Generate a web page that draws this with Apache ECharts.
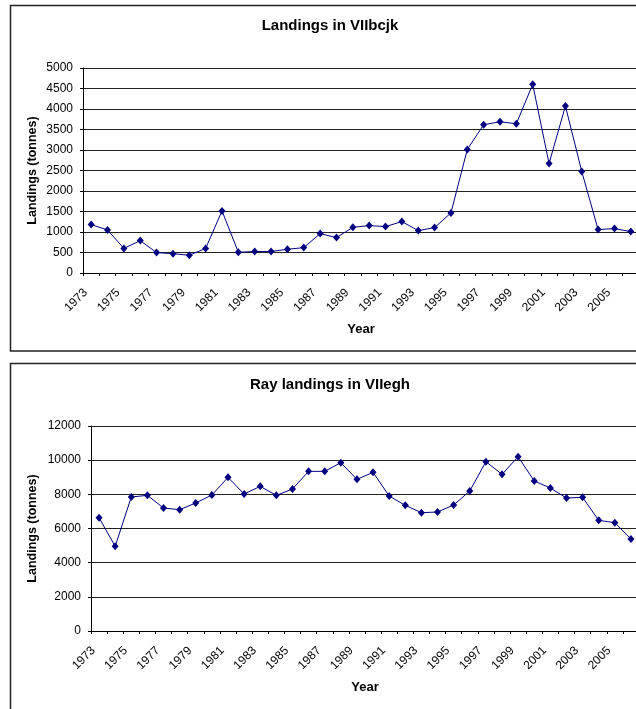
<!DOCTYPE html>
<html>
<head>
<meta charset="utf-8">
<script src="https://cdn.jsdelivr.net/npm/echarts@6/dist/echarts.min.js"></script>
<style>
html,body{margin:0;padding:0;background:#fff;overflow:hidden;width:636px;height:709px;}
#c{width:650px;height:709px;}
</style>
</head>
<body>
<div id="c"></div>
<script>
const years = [];
for (let y = 1973; y <= 2006; y++) years.push(String(y));

const titleTop = 'Landings in VIIbcjk';
const titleBottom = 'Ray landings in VIIegh';
const yAxisName = 'Landings (tonnes)';
const xAxisName = 'Year';

const landingsVIIbcjk = [1180, 1050, 600, 790, 497, 472, 432, 600, 1515, 505, 525, 525, 578, 619, 961, 863,
  1115, 1156, 1132, 1254, 1034, 1107, 1466, 3013, 3616, 3689, 3640, 4601, 2671, 4072, 2476, 1059, 1083, 1010];

const rayVIIegh = [6634, 4956, 7843, 7941, 7199, 7102, 7492, 7960, 8994, 8019, 8467, 7941, 8311, 9345, 9345, 9853,
  8877, 9287, 7902, 7355, 6926, 6965, 7375, 8194, 9911, 9170, 10204, 8780, 8370, 7785, 7824, 6477, 6341, 5385];

const FONT = '"Liberation Sans", Arial, sans-serif';
const lineColor = '#000080';

function xAxis(gridIndex) {
  return {
    type: 'category', gridIndex, data: years, boundaryGap: true,
    name: xAxisName, nameLocation: 'middle', nameGap: 50, nameMoveOverlap: false,
    nameTextStyle: { fontFamily: FONT, fontSize: 13, fontWeight: 'bold', color: '#000' },
    axisLine: { lineStyle: { color: '#000', width: 1 } },
    axisTick: { show: true, interval: 0, length: 3, inside: false, lineStyle: { color: '#000' } },
    axisLabel: { interval: 1, rotate: 45, margin: 12, padding: [0, 8, 0, 0],
      fontFamily: FONT, fontSize: 12, color: '#000' },
    splitLine: { show: false }
  };
}
function yAxis(gridIndex, max, interval, nameGap) {
  return {
    type: 'value', gridIndex, min: 0, max, interval,
    name: yAxisName, nameLocation: 'middle', nameGap, nameMoveOverlap: false,
    nameTextStyle: { fontFamily: FONT, fontSize: 12.5, fontWeight: 'bold', color: '#000' },
    axisLine: { show: true, lineStyle: { color: '#000', width: 1 } },
    axisTick: { show: true, length: 3, lineStyle: { color: '#000' } },
    axisLabel: { margin: 10, fontFamily: FONT, fontSize: 12, color: '#000',
      formatter: v => String(v) },
    splitLine: { show: true, lineStyle: { color: '#222', width: 1 } }
  };
}
function series(idx, data) {
  return {
    type: 'line', xAxisIndex: idx, yAxisIndex: idx, data,
    symbol: 'diamond', symbolSize: [7, 8], showAllSymbol: true,
    lineStyle: { color: lineColor, width: 1 },
    itemStyle: { color: lineColor },
    animation: false
  };
}

const chart = echarts.init(document.getElementById('c'), null, { renderer: 'canvas' });
chart.setOption({
  backgroundColor: '#fff',
  animation: false,
  title: [
    { text: titleTop, left: 330, top: 18, textAlign: 'center', padding: 0,
      textStyle: { fontFamily: FONT, fontSize: 15, fontWeight: 'bold', color: '#000' } },
    { text: titleBottom, left: 330, top: 377, textAlign: 'center', padding: 0,
      textStyle: { fontFamily: FONT, fontSize: 15, fontWeight: 'bold', color: '#000' } }
  ],
  grid: [
    { left: 83, top: 68, right: 11, bottom: 436 },
    { left: 91, top: 426, right: 11, bottom: 78 }
  ],
  xAxis: [xAxis(0), xAxis(1)],
  yAxis: [yAxis(0, 5000, 500, 44), yAxis(1, 12000, 2000, 52)],
  series: [series(0, landingsVIIbcjk), series(1, rayVIIegh)],
  graphic: [
    { type: 'rect', shape: { x: 10.5, y: 5.5, width: 640, height: 345.5 },
      style: { fill: null, stroke: '#222', lineWidth: 1.5 }, silent: true },
    { type: 'rect', shape: { x: 10.5, y: 363.5, width: 640, height: 360 },
      style: { fill: null, stroke: '#222', lineWidth: 1.5 }, silent: true }
  ]
});
</script>
</body>
</html>
